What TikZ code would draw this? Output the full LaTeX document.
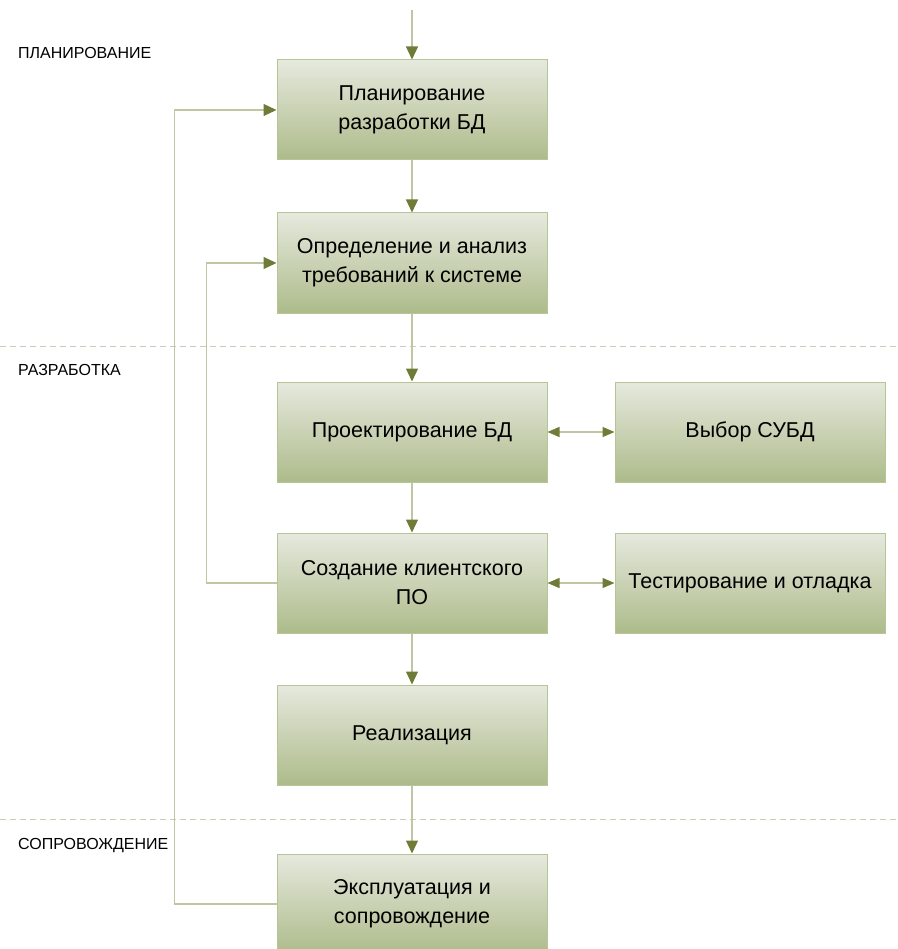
\documentclass[tikz,border=0pt]{standalone}
\usepackage{fontspec}
\setmainfont{Liberation Sans}
\usepackage{xcolor}
\usetikzlibrary{positioning,arrows.meta}
\definecolor{boxtop}{HTML}{E6E9DE}
\definecolor{boxbot}{HTML}{ADBB8A}
\definecolor{boxline}{HTML}{B7C596}
\definecolor{linkcol}{HTML}{BFC6A2}
\definecolor{tipcol}{HTML}{6E7C38}
\definecolor{sepcol}{HTML}{C9CCB6}

\begin{document}
\begin{tikzpicture}[x=1pt, y=1pt, node distance=52pt,
    box/.style={rectangle, draw=boxline, line width=1pt, top color=boxtop, bottom color=boxbot, minimum width=270pt, minimum height=100pt, inner sep=0pt, align=center, font=\fontsize{21.5}{29}\selectfont},
    phase/.style={anchor=west, inner sep=0pt, font=\fontsize{16}{19}\selectfont},
    link/.style={draw=linkcol, line width=1.2pt, -{Triangle[width=12pt, length=13pt, color=tipcol]}},
    both/.style={draw=linkcol, line width=1.2pt, {Triangle[width=10pt, length=12pt, color=tipcol]}-{Triangle[width=10pt, length=12pt, color=tipcol]}},
    sep/.style={draw=sepcol, line width=1pt, dash pattern=on 6pt off 4pt}]
    \useasboundingbox (0,0) rectangle (897,-949);

    % phase separators and titles
    \draw[sep] (0,-346) -- (897,-346);
    \draw[sep] (0,-819) -- (897,-819);
    \node[phase] (phplan) at (18,-53) {ПЛАНИРОВАНИЕ};
    \node[phase] (phdev) at (18,-370) {РАЗРАБОТКА};
    \node[phase] (phsup) at (18,-845) {СОПРОВОЖДЕНИЕ};

    % stages
    \node[box] (plan) at (412,-110) {Планирование\\разработки БД};
    \node[box, below=52pt of plan] (req) {Определение и анализ\\требований к системе};
    \node[box, below=68pt of req] (design) {Проектирование БД};
    \node[box, right=67pt of design] (dbms) {Выбор СУБД};
    \node[box, below=50pt of design] (client) {Создание клиентского\\ПО};
    \node[box, right=67pt of client] (test) {Тестирование и отладка};
    \node[box, below=51pt of client] (impl) {Реализация};
    \node[box, below=68pt of impl] (oper) {Эксплуатация и\\сопровождение};
    \coordinate (start) at (412,-10);

    \draw[link] (start) -- (plan);
    \draw[link] (plan) -- (req);
    \draw[link] (req) -- (design);
    \draw[link] (design) -- (client);
    \draw[link] (client) -- (impl);
    \draw[link] (impl) -- (oper);
    \draw[both] (design) -- (dbms);
    \draw[both] (client) -- (test);

    % feedback loops
    \draw[link] (oper.west) -- ++(-102,0) |- (plan.west);
    \draw[link] (client.west) -- ++(-70,0) |- (req.west);
\end{tikzpicture}
\end{document}
